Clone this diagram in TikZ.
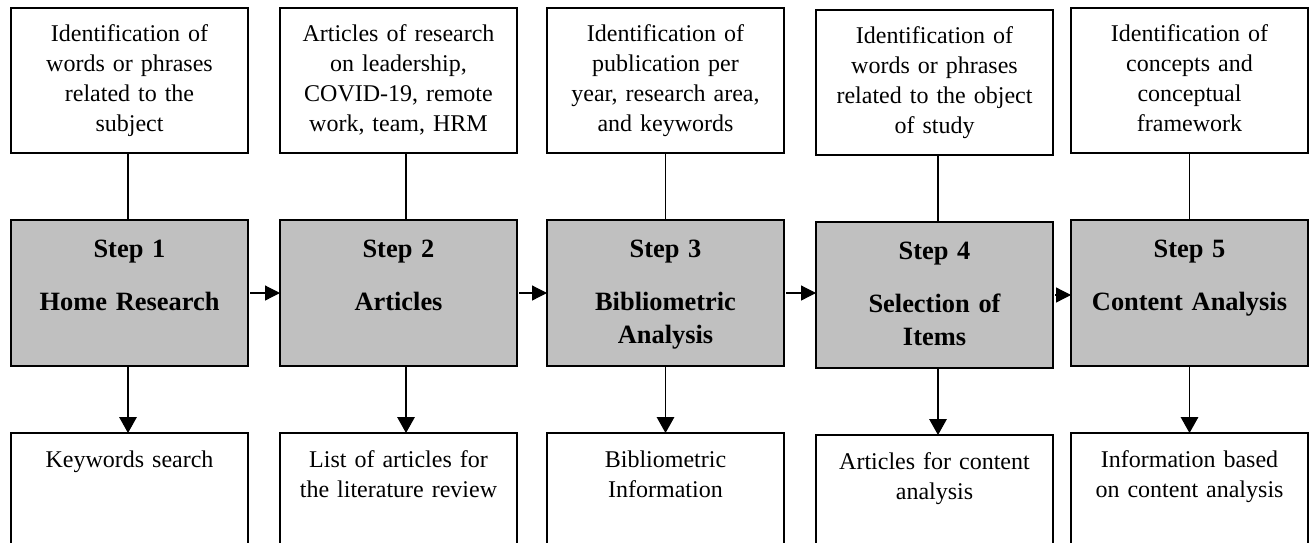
\documentclass[tikz,border=0pt]{standalone}
\usepackage{fontspec}
\setmainfont{Liberation Serif}
\usetikzlibrary{arrows.meta}
\definecolor{stepgray}{RGB}{192,192,192}
\begin{document}
\begin{tikzpicture}[x=0.5pt,y=-0.5pt,
  box/.style={draw=black, line width=1pt, rectangle, inner sep=0pt, outer sep=0pt,
    minimum width=118.5pt, anchor=north west},
  infobox/.style={box, fill=white, minimum height=72.5pt},
  stepbox/.style={box, fill=stepgray, minimum height=73pt},
  outbox/.style={box, fill=white, minimum height=85pt},
  infotext/.style={anchor=base, text width=116pt, align=center, inner sep=0pt,
    font=\fontsize{12}{15}\selectfont},
  steptext/.style={anchor=base, text width=116pt, align=center, inner sep=0pt,
    font=\fontsize{13.2}{16.5}\selectfont\bfseries},
  link/.style={line width=0.6pt},
  flow/.style={line width=0.6pt, -{Triangle[length=7.5pt,width=7.5pt]}},
  down/.style={line width=0.6pt, -{Triangle[length=8pt,width=8.8pt]}},
]
\useasboundingbox (0,0) rectangle (1309,542);
\clip (0,0) rectangle (1309,542);

% column 1
\node[infobox] (t1) at (11,8) {};
\node[stepbox] (s1) at (11,220) {};
\node[outbox]  (o1) at (11,433) {};
\node[infotext] (tt1) at (129.5,41) {Identification of\\words or phrases\\related to the\\subject};
\node[steptext] (st1) at (129.5,257) {Step 1\\[10pt]Home Research};
\node[infotext] (ot1) at (129.5,467) {Keywords search};

% column 2
\node[infobox] (t2) at (280,8) {};
\node[stepbox] (s2) at (280,220) {};
\node[outbox]  (o2) at (280,433) {};
\node[infotext] (tt2) at (398.5,41) {Articles of research\\on leadership,\\COVID-19, remote\\work, team, HRM};
\node[steptext] (st2) at (398.5,257) {Step 2\\[10pt]Articles};
\node[infotext] (ot2) at (398.5,467) {List of articles for\\the literature review};

% column 3
\node[infobox] (t3) at (547,8) {};
\node[stepbox] (s3) at (547,220) {};
\node[outbox]  (o3) at (547,433) {};
\node[infotext] (tt3) at (665.5,41) {Identification of\\publication per\\year, research area,\\and keywords};
\node[steptext] (st3) at (665.5,257) {Step 3\\[10pt]Bibliometric\\Analysis};
\node[infotext] (ot3) at (665.5,467) {Bibliometric\\Information};

% column 4
\node[infobox] (t4) at (816,10) {};
\node[stepbox] (s4) at (816,222) {};
\node[outbox]  (o4) at (816,435) {};
\node[infotext] (tt4) at (934.5,43) {Identification of\\words or phrases\\related to the object\\of study};
\node[steptext] (st4) at (934.5,259) {Step 4\\[10pt]Selection of\\Items};
\node[infotext] (ot4) at (934.5,469) {Articles for content\\analysis};

% column 5
\node[infobox] (t5) at (1071,8) {};
\node[stepbox] (s5) at (1071,220) {};
\node[outbox]  (o5) at (1071,433) {};
\node[infotext] (tt5) at (1189.5,41) {Identification of\\concepts and\\conceptual\\framework};
\node[steptext] (st5) at (1189.5,257) {Step 5\\[10pt]Content Analysis};
\node[infotext] (ot5) at (1189.5,467) {Information based\\on content analysis};

% inputs feeding each step
\draw[link] ([xshift=-0.75pt]t1.south) -- ([xshift=-0.75pt]s1.north);
\draw[link] ([xshift=3.75pt]t2.south) -- ([xshift=3.75pt]s2.north);
\draw[link] (t3.south) -- (s3.north);
\draw[link] ([xshift=1.75pt]t4.south) -- ([xshift=1.75pt]s4.north);
\draw[link] (t5.south) -- (s5.north);

% outputs of each step
\draw[down] ([xshift=-0.75pt]s1.south) -- ([xshift=-0.75pt]o1.north);
\draw[down] ([xshift=3.75pt]s2.south) -- ([xshift=3.75pt]o2.north);
\draw[down] (s3.south) -- (o3.north);
\draw[down] ([xshift=1.75pt]s4.south) -- ([xshift=1.75pt]o4.north);
\draw[down] (s5.south) -- (o5.north);

% sequence of steps
\draw[flow] ([xshift=1pt]s1.east) -- (s2.west);
\draw[flow] ([xshift=1pt]s2.east) -- (s3.west);
\draw[flow] ([xshift=1pt]s3.east) -- (s3.east -| s4.west);
\draw[flow] ([xshift=1pt]s4.east) -- (s4.east -| s5.west);
\end{tikzpicture}
\end{document}
